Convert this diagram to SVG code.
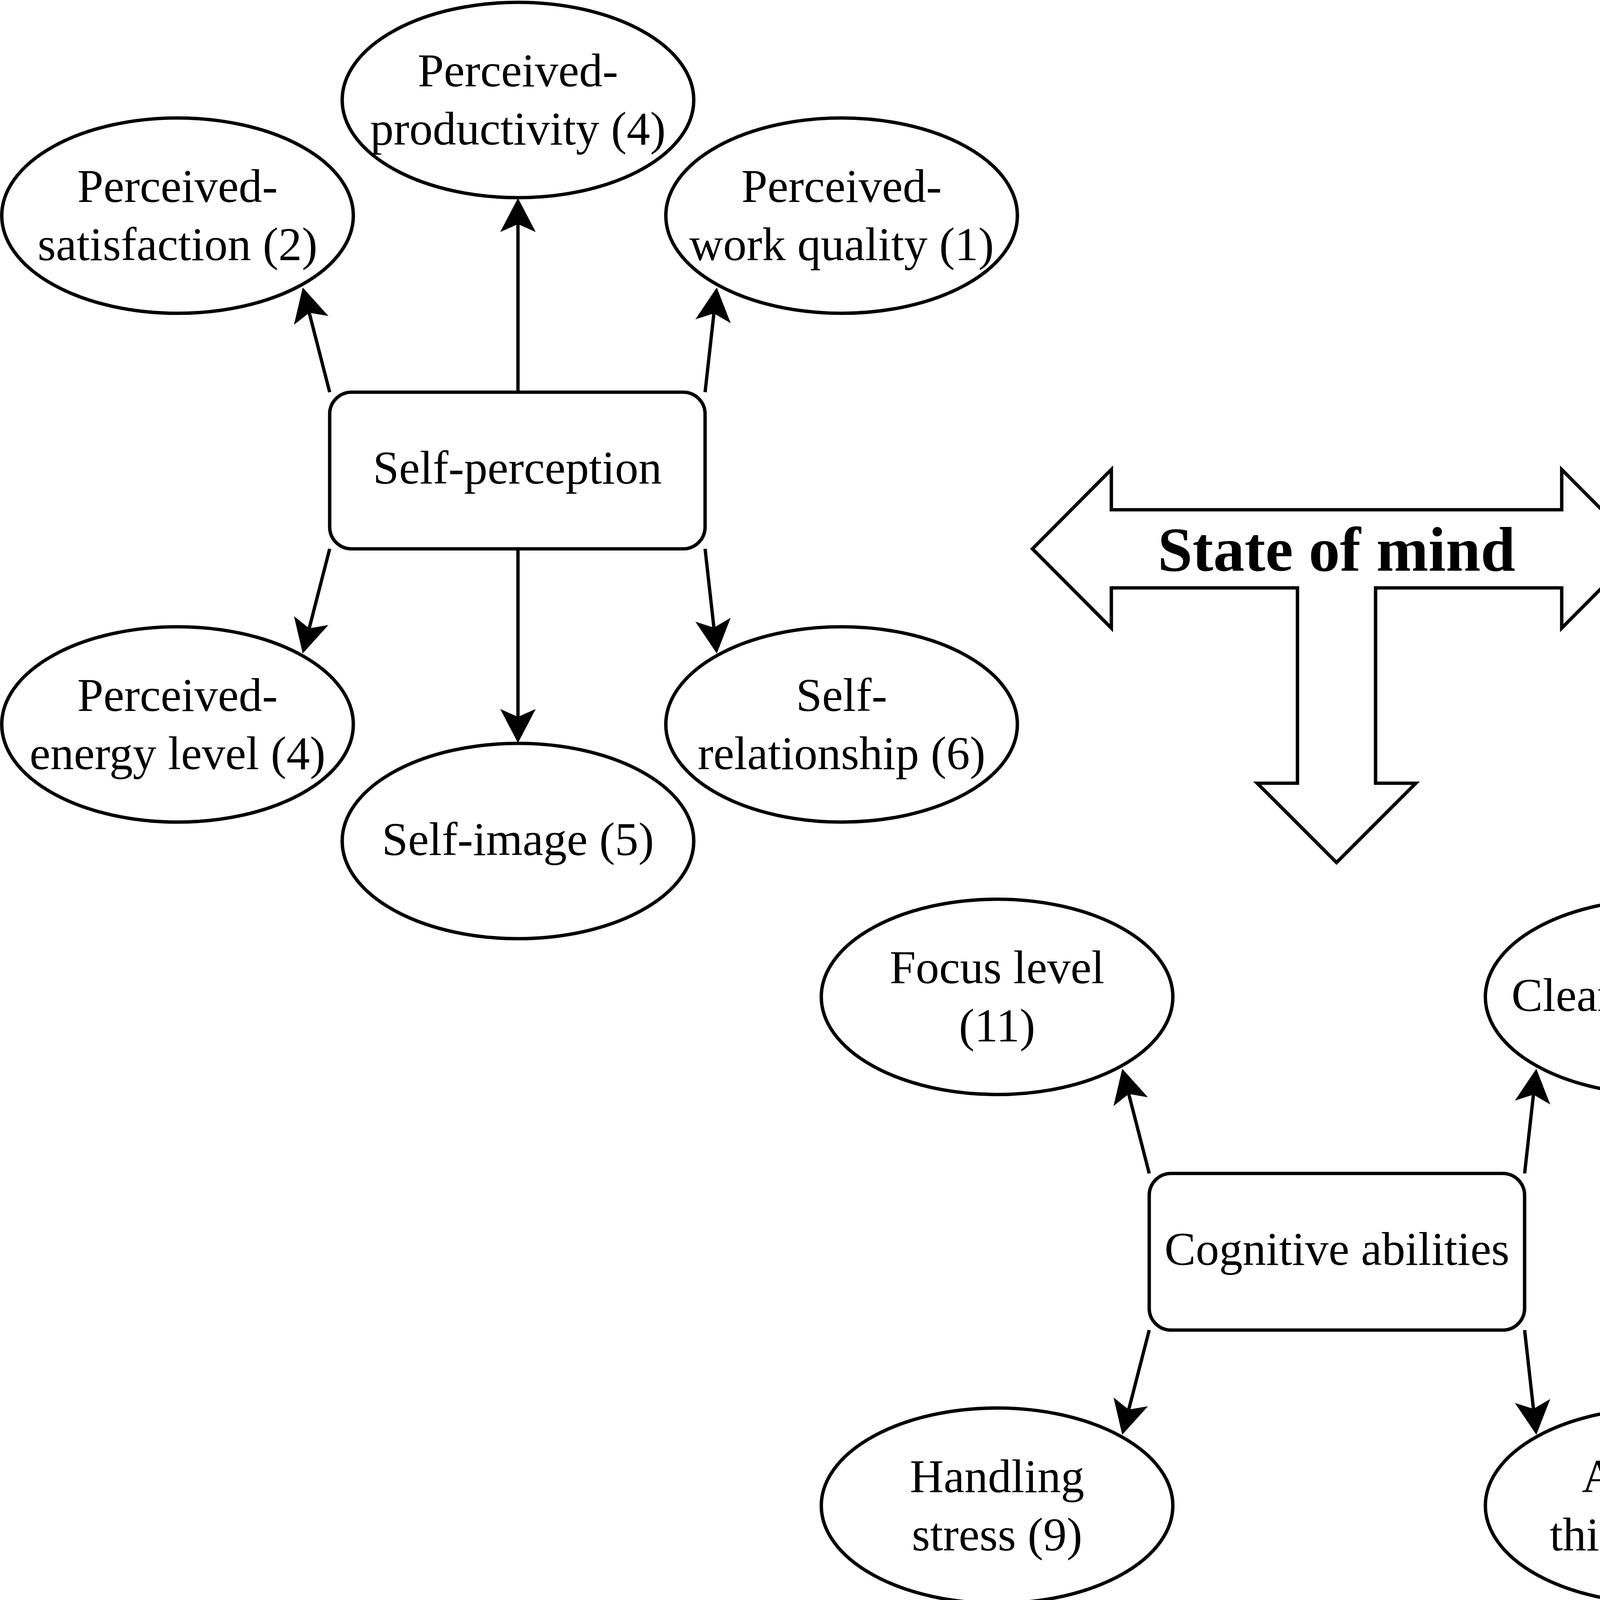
<svg xmlns="http://www.w3.org/2000/svg" width="6810" height="4110" viewBox="0 0 6810 4110">
<style>
.bg{fill:#ffffff}
.node{fill:#ffffff;stroke:#000000;stroke-width:8.7}
.edge{fill:none;stroke:#000000;stroke-width:8.5;stroke-linecap:butt}
.t{font-family:"Liberation Serif","Times New Roman",serif;font-size:120px;fill:#000000;text-anchor:middle}
.title{font-family:"Liberation Serif","Times New Roman",serif;font-size:160px;font-weight:bold;fill:#000000;text-anchor:middle}
</style>
<defs>
<marker id="ah" markerUnits="userSpaceOnUse" viewBox="-22 -48 92 96" refX="0" refY="0" markerWidth="92" markerHeight="96" orient="auto">
<path d="M66.7,0 L-20.3,-45.5 L0,0 L-20.3,45.5 Z" fill="#000000"/>
</marker>
</defs>
<rect class="bg" x="0" y="0" width="6810" height="4110"/>

<g id="state-of-mind">
<path class="node" stroke-linejoin="miter" d="M2643,1405 L2845,1202 L2845,1305 L3998,1305 L3998,1202 L4200,1405 L3998,1608 L3998,1505 L3521.5,1505 L3521.5,2005 L3624.5,2005 L3421.5,2208 L3218.5,2005 L3321.5,2005 L3321.5,1505 L2845,1505 L2845,1608 Z"/>
<text class="title" x="3421.5" y="1461">State of mind</text>
</g>

<g id="connectors">
<line class="edge" x1="844" y1="1004" x2="791.6" y2="800.6" marker-end="url(#ah)"/>
<line class="edge" x1="1326" y1="1004" x2="1326" y2="573.7" marker-end="url(#ah)"/>
<line class="edge" x1="1805" y1="1004" x2="1827.6" y2="802.3" marker-end="url(#ah)"/>
<line class="edge" x1="844" y1="1405" x2="791.6" y2="1608.4" marker-end="url(#ah)"/>
<line class="edge" x1="1326" y1="1405" x2="1326" y2="1835.3" marker-end="url(#ah)"/>
<line class="edge" x1="1805" y1="1405" x2="1827.6" y2="1606.7" marker-end="url(#ah)"/>

<line class="edge" x1="5044" y1="1004" x2="4991.6" y2="800.6" marker-end="url(#ah)"/>
<line class="edge" x1="6005" y1="1004" x2="6027.6" y2="802.3" marker-end="url(#ah)"/>
<line class="edge" x1="5044" y1="1405" x2="4991.6" y2="1608.4" marker-end="url(#ah)"/>
<line class="edge" x1="6005" y1="1405" x2="6027.6" y2="1606.7" marker-end="url(#ah)"/>

<line class="edge" x1="2942" y1="3004" x2="2889.6" y2="2800.6" marker-end="url(#ah)"/>
<line class="edge" x1="3903" y1="3004" x2="3925.6" y2="2802.3" marker-end="url(#ah)"/>
<line class="edge" x1="2942" y1="3405" x2="2889.6" y2="3608.4" marker-end="url(#ah)"/>
<line class="edge" x1="3903" y1="3405" x2="3925.6" y2="3606.7" marker-end="url(#ah)"/>
</g>

<g id="self-perception">
<rect class="node" x="844" y="1004" width="961" height="401" rx="56" ry="56"/>
<text class="t" x="1324.5" y="1238">Self-perception</text>
</g>
<g id="perceived-satisfaction">
<ellipse class="node" cx="454.5" cy="552" rx="450" ry="250"/>
<text class="t" x="454.5" y="517">Perceived-</text>
<text class="t" x="454.5" y="666">satisfaction (2)</text>
</g>
<g id="perceived-productivity">
<ellipse class="node" cx="1326" cy="256" rx="450" ry="250"/>
<text class="t" x="1326" y="221">Perceived-</text>
<text class="t" x="1326" y="370">productivity (4)</text>
</g>
<g id="perceived-work-quality">
<ellipse class="node" cx="2154.5" cy="552" rx="450" ry="250"/>
<text class="t" x="2154.5" y="517">Perceived-</text>
<text class="t" x="2154.5" y="666">work quality (1)</text>
</g>
<g id="perceived-energy-level">
<ellipse class="node" cx="454.5" cy="1854.5" rx="450" ry="250"/>
<text class="t" x="454.5" y="1819.5">Perceived-</text>
<text class="t" x="454.5" y="1968.5">energy level (4)</text>
</g>
<g id="self-relationship">
<ellipse class="node" cx="2154.5" cy="1854.5" rx="450" ry="250"/>
<text class="t" x="2154.5" y="1819.5">Self-</text>
<text class="t" x="2154.5" y="1968.5">relationship (6)</text>
</g>
<g id="self-image">
<ellipse class="node" cx="1326" cy="2153" rx="450" ry="250"/>
<text class="t" x="1326" y="2189">Self-image (5)</text>
</g>

<g id="resilience">
<rect class="node" x="5044" y="1004" width="961" height="401" rx="56" ry="56"/>
<text class="t" x="5524.5" y="1238">Resilience</text>
</g>
<g id="confidence">
<ellipse class="node" cx="4654.5" cy="552" rx="450" ry="250"/>
<text class="t" x="4654.5" y="588">Confidence (5)</text>
</g>
<g id="balance-work">
<ellipse class="node" cx="6354.5" cy="552" rx="450" ry="250"/>
<text class="t" x="6354.5" y="588">Balance work (7)</text>
</g>
<g id="take-deep-breaths">
<ellipse class="node" cx="4654.5" cy="1854.5" rx="450" ry="250"/>
<text class="t" x="4654.5" y="1819.5">Take deep</text>
<text class="t" x="4654.5" y="1968.5">breaths (3)</text>
</g>
<g id="calm">
<ellipse class="node" cx="6354.5" cy="1854.5" rx="450" ry="250"/>
<text class="t" x="6354.5" y="1890.5">Calm (2)</text>
</g>

<g id="cognitive-abilities">
<rect class="node" x="2942" y="3004" width="961" height="401" rx="56" ry="56"/>
<text class="t" x="3422.5" y="3238">Cognitive abilities</text>
</g>
<g id="focus-level">
<ellipse class="node" cx="2552.5" cy="2552" rx="450" ry="250"/>
<text class="t" x="2552.5" y="2517">Focus level</text>
<text class="t" x="2552.5" y="2666">(11)</text>
</g>
<g id="clear-mind">
<ellipse class="node" cx="4252.5" cy="2552" rx="450" ry="250"/>
<text class="t" x="4252.5" y="2588">Clear mind (12)</text>
</g>
<g id="handling-stress">
<ellipse class="node" cx="2552.5" cy="3854.5" rx="450" ry="250"/>
<text class="t" x="2552.5" y="3819.5">Handling</text>
<text class="t" x="2552.5" y="3968.5">stress (9)</text>
</g>
<g id="abstract-thinking">
<ellipse class="node" cx="4252.5" cy="3854.5" rx="450" ry="250"/>
<text class="t" x="4252.5" y="3819.5">Abstract</text>
<text class="t" x="4252.5" y="3968.5">thinking (2)</text>
</g>
</svg>
